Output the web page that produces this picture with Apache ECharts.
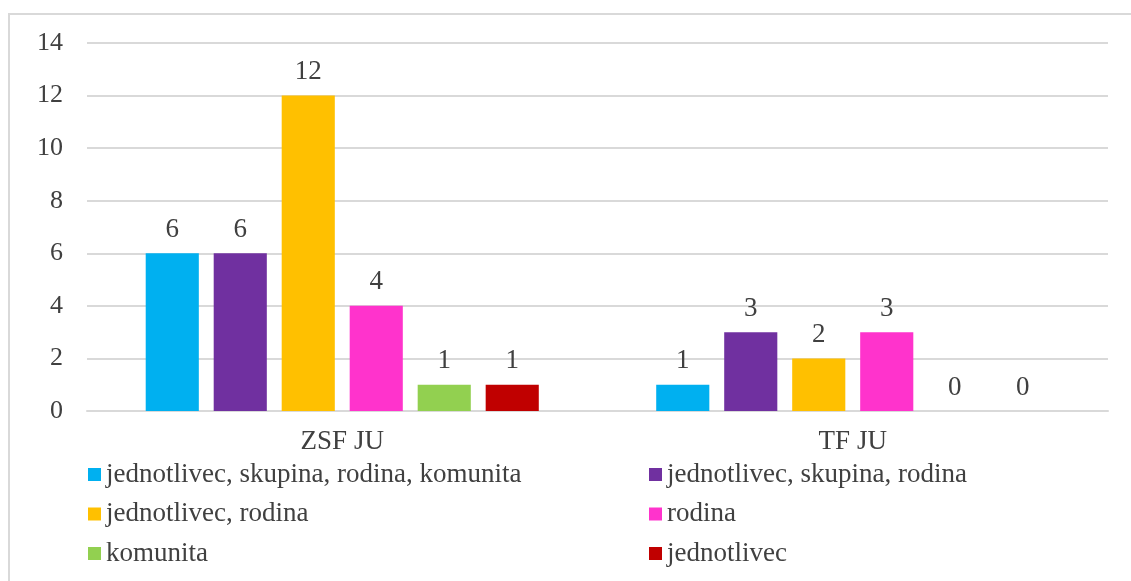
<!DOCTYPE html>
<html>
<head>
<meta charset="utf-8">
<script src="https://cdn.jsdelivr.net/npm/echarts@6/dist/echarts.min.js"></script>
<style>html,body{margin:0;padding:0;background:#fff;}#c{width:1131px;height:581px;}</style>
</head>
<body>
<div id="c"></div>
<script>
const categories = ['ZSF JU', 'TF JU'];
const seriesNames = [
  'jednotlivec, skupina, rodina, komunita',
  'jednotlivec, skupina, rodina',
  'jednotlivec, rodina',
  'rodina',
  'komunita',
  'jednotlivec'
];
const s1 = [6, 1];
const s2 = [6, 3];
const s3 = [12, 2];
const s4 = [4, 3];
const s5 = [1, 0];
const s6 = [1, 0];
const yTicks = { min: 0, max: 14, interval: 2 };
const colors = ['#00B0F0', '#7030A0', '#FFC000', '#FF33CC', '#92D050', '#C00000'];

const allData = [s1, s2, s3, s4, s5, s6];
const font = 'Liberation Serif, Times New Roman, serif';
const txt = '#404040';

const chart = echarts.init(document.getElementById('c'));
chart.setOption({
  animation: false,
  textStyle: { fontFamily: font },
  graphic: [{
    type: 'rect', shape: { x: 9, y: 14, width: 1140, height: 620 },
    style: { fill: 'none', stroke: '#d9d9d9', lineWidth: 2 }, silent: true, z: -1
  }],
  grid: { left: 87, right: 23, top: 43, bottom: 170 },
  legend: [
    {
      data: [seriesNames[0], seriesNames[2], seriesNames[4]],
      orient: 'vertical', left: 83, top: 456,
      itemWidth: 13, itemHeight: 13, itemGap: 12.5,
      icon: 'rect',
      textStyle: { fontFamily: font, fontSize: 27, color: txt, lineHeight: 27 }
    },
    {
      data: [seriesNames[1], seriesNames[3], seriesNames[5]],
      orient: 'vertical', left: 644, top: 456,
      itemWidth: 13, itemHeight: 13, itemGap: 12.5,
      icon: 'rect',
      textStyle: { fontFamily: font, fontSize: 27, color: txt, lineHeight: 27 }
    }
  ],
  xAxis: {
    type: 'category', data: categories,
    axisLine: { lineStyle: { color: '#d9d9d9', width: 2 } },
    axisTick: { show: false },
    axisLabel: { fontFamily: font, fontSize: 27, color: txt, margin: 17 }
  },
  yAxis: {
    type: 'value', min: yTicks.min, max: yTicks.max, interval: yTicks.interval,
    axisLine: { show: false }, axisTick: { show: false },
    splitLine: { lineStyle: { color: '#d9d9d9', width: 2 } },
    axisLabel: { fontFamily: font, fontSize: 26, color: txt, margin: 24 }
  },
  series: seriesNames.map((n, i) => ({
    name: n, type: 'bar', data: allData[i],
    barGap: '28%', barCategoryGap: '23%',
    itemStyle: { color: colors[i] },
    label: { show: true, position: 'top', distance: 10, fontFamily: font, fontSize: 27, color: txt }
  }))
});
</script>
</body>
</html>
